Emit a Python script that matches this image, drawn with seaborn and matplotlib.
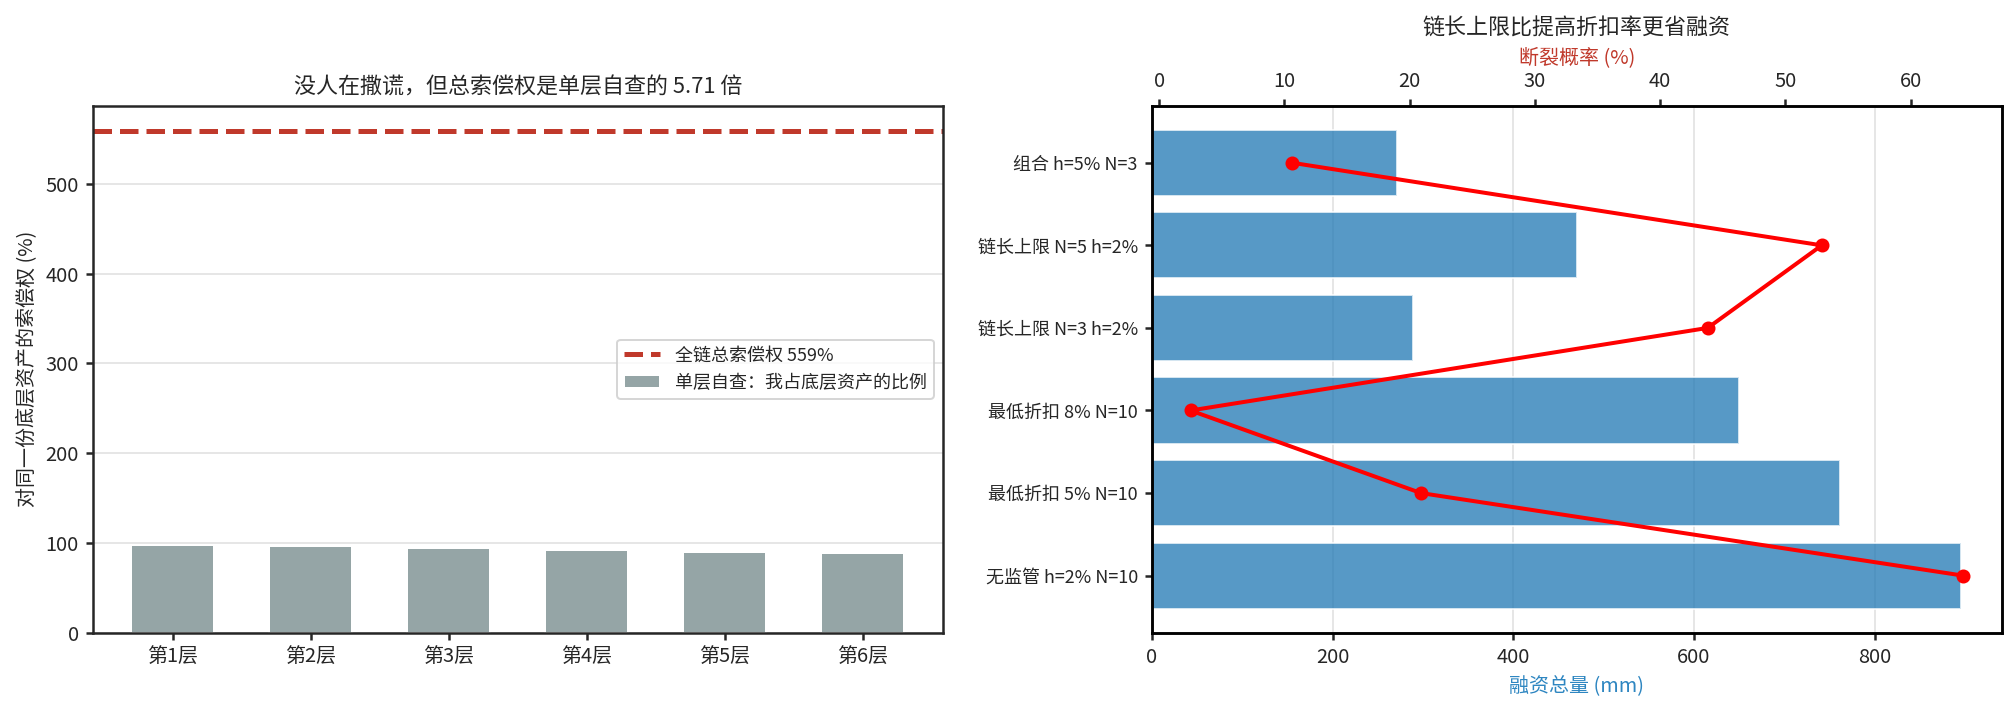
import numpy as np
import pandas as pd
import matplotlib
matplotlib.use("Agg")
import matplotlib.pyplot as plt
import seaborn as sns

# --- data ---
layers = ['第1层', '第2层', '第3层', '第4层', '第5层', '第6层']
claims = [98.0, 96.0, 94.1, 92.2, 90.4, 88.6]   # 单层自查 (%)

scenarios = ['组合 h=5% N=3', '链长上限 N=5 h=2%', '链长上限 N=3 h=2%',
             '最低折扣 8% N=10', '最低折扣 5% N=10', '无监管 h=2% N=10']
financing = [271, 470, 289, 650, 762, 896]        # 融资总量 (mm)
break_prob = [10.6, 52.9, 43.8, 2.5, 20.9, 64.2]   # 断裂概率 (%)

total_claim = sum(claims)
ratio = total_claim / claims[0]

sns.set_theme(style="ticks", rc={
    'axes.edgecolor': '#262626',
    'xtick.major.size': 3.5, 'ytick.major.size': 3.5,
    'xtick.labelsize': 10, 'ytick.labelsize': 10,
    'axes.labelsize': 10, 'axes.titlesize': 11,
    'legend.fontsize': 9,
})
plt.rcParams['font.family'] = ['Noto Sans CJK SC', 'DejaVu Sans']
plt.rcParams['axes.unicode_minus'] = False

fig, (ax1, ax) = plt.subplots(1, 2, figsize=(14, 710 / 144), dpi=144)
fig.subplots_adjust(left=0.046, right=0.993, bottom=0.109, top=0.851, wspace=0.246)

# --- left: claims per layer ---
df_left = pd.DataFrame({'layer': layers, 'claim': claims})
sns.barplot(data=df_left, x='layer', y='claim', color='#95a5a6', saturation=1,
            width=0.6, ax=ax1)
line = ax1.axhline(total_claim, color='#c0392b', linestyle='--', linewidth=2.5)
ax1.set_xlim(-0.58, len(layers) - 1 + 0.58)
ax1.set_ylim(0, total_claim * 1.05)
ax1.set_xlabel('')
ax1.set_ylabel('对同一份底层资产的索偿权 (%)')
ax1.set_title(f'没人在撒谎，但总索偿权是单层自查的 {ratio:.2f} 倍')
ax1.grid(axis='y', color='#e6e6e6', linewidth=1)
ax1.set_axisbelow(True)
ax1.legend(handles=[line, ax1.patches[0]],
           labels=[f'全链总索偿权 {total_claim:.0f}%', '单层自查：我占底层资产的比例'],
           loc='center right')

# --- right: financing vs break probability ---
df_right = pd.DataFrame({'scenario': scenarios, 'financing': financing})
sns.barplot(data=df_right, x='financing', y='scenario', orient='h', color='#1f77b4',
            alpha=0.75, saturation=1, ax=ax)
ax.set_xlim(0, max(financing) * 1.05)
ax.set_xlabel('融资总量 (mm)', color='#2e86c1')
ax.set_ylabel('')
ax.tick_params(axis='y', labelsize=9)
ax.grid(axis='x', color='#e6e6e6', linewidth=1)
ax.set_axisbelow(True)

ax2 = ax.twiny()
ax2.plot(break_prob, np.arange(len(scenarios)), color='red', marker='o',
         linewidth=2, markersize=6)
ax2.set_xlabel('断裂概率 (%)', color='#c0392b')
ax2.grid(False)
for a in (ax, ax2):
    for sp in a.spines.values():
        sp.set_color('black')
ax.set_ylim(len(scenarios) - 1 + 0.69, -0.69)
ax.set_title('链长上限比提高折扣率更省融资')

fig.savefig('out.png', dpi=144)
